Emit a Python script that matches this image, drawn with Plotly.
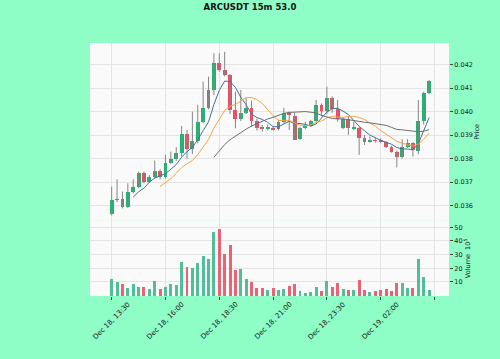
import plotly.graph_objects as go
import pandas as pd

# ---- data (15m candles, Dec 18 13:30 -> Dec 19 04:15) ----
opens = [0.03565, 0.03624, 0.03626, 0.03596, 0.03657, 0.03677, 0.03738, 0.03702, 0.03723, 0.03748,
         0.03723, 0.03783, 0.03797, 0.03823, 0.03904, 0.03840, 0.03877, 0.03957, 0.04017, 0.04092,
         0.04209, 0.04177, 0.04156, 0.04007, 0.03968, 0.03996, 0.04017, 0.03960, 0.03932, 0.03929,
         0.03932, 0.03925, 0.03957, 0.03996, 0.03982, 0.03884, 0.03929, 0.03939, 0.03960, 0.04029,
         0.04003, 0.04060, 0.04011, 0.03929, 0.03969, 0.03929, 0.03929, 0.03889, 0.03872, 0.03877,
         0.03877, 0.03870, 0.03851, 0.03830, 0.03806, 0.03851, 0.03866, 0.03833, 0.03960, 0.04078]
highs = [0.03681, 0.03712, 0.03660, 0.03695, 0.03712, 0.03745, 0.03745, 0.03730, 0.03791, 0.03755,
         0.03816, 0.03830, 0.03849, 0.03939, 0.03922, 0.04000, 0.04029, 0.04128, 0.04149, 0.04249,
         0.04249, 0.04255, 0.04160, 0.04085, 0.04092, 0.04057, 0.04047, 0.03970, 0.03943, 0.03945,
         0.03935, 0.03965, 0.04016, 0.04000, 0.03995, 0.03935, 0.03957, 0.03965, 0.04050, 0.04035,
         0.04106, 0.04065, 0.04050, 0.03972, 0.03980, 0.03957, 0.03935, 0.03901, 0.03894, 0.03890,
         0.03887, 0.03875, 0.03855, 0.03835, 0.03883, 0.03883, 0.03870, 0.04050, 0.04085, 0.04135]
lows = [0.03558, 0.03615, 0.03588, 0.03590, 0.03652, 0.03674, 0.03695, 0.03698, 0.03715, 0.03712,
        0.03715, 0.03778, 0.03790, 0.03809, 0.03800, 0.03820, 0.03865, 0.03950, 0.04010, 0.04070,
        0.04170, 0.04150, 0.03990, 0.03929, 0.03960, 0.03990, 0.03935, 0.03920, 0.03915, 0.03920,
        0.03920, 0.03920, 0.03950, 0.03922, 0.03880, 0.03880, 0.03925, 0.03935, 0.03955, 0.03980,
        0.03990, 0.03995, 0.03957, 0.03925, 0.03901, 0.03922, 0.03816, 0.03858, 0.03868, 0.03868,
        0.03865, 0.03845, 0.03825, 0.03763, 0.03800, 0.03845, 0.03809, 0.03819, 0.03945, 0.04075]
closes = [0.03624, 0.03626, 0.03596, 0.03657, 0.03677, 0.03738, 0.03702, 0.03723, 0.03748, 0.03723,
          0.03783, 0.03797, 0.03823, 0.03904, 0.03840, 0.03877, 0.03957, 0.04017, 0.04092, 0.04209,
          0.04177, 0.04156, 0.04007, 0.03968, 0.03996, 0.04017, 0.03960, 0.03932, 0.03929, 0.03934,
          0.03925, 0.03957, 0.03996, 0.03985, 0.03880, 0.03929, 0.03939, 0.03960, 0.04029, 0.04003,
          0.04060, 0.04011, 0.03969, 0.03969, 0.03929, 0.03933, 0.03889, 0.03872, 0.03877, 0.03876,
          0.03872, 0.03851, 0.03830, 0.03806, 0.03849, 0.03866, 0.03837, 0.03960, 0.04078, 0.04131]
volumes = [12.0, 10.2, 8.5, 5.8, 8.5, 6.6, 6.6, 4.7, 10.7, 4.9,
           6.6, 8.3, 7.8, 24.4, 21.2, 20.4, 23.6, 29.2, 26.6, 46.3,
           48.7, 30.9, 37.0, 18.8, 19.3, 12.2, 9.8, 5.4, 5.8, 4.2,
           5.4, 4.2, 4.7, 7.1, 8.3, 3.4, 2.2, 2.5, 6.1, 3.4,
           10.7, 6.6, 9.3, 4.9, 4.2, 4.2, 11.2, 4.2, 2.5, 3.4,
           3.9, 4.7, 3.4, 9.0, 9.0, 5.8, 5.8, 26.6, 13.4, 4.2]
tick_pos = [0, 10, 20, 30, 40, 50, 60]
tick_labels = ["Dec 18, 13:30", "Dec 18, 16:00", "Dec 18, 18:30", "Dec 18, 21:00",
               "Dec 18, 23:30", "Dec 19, 02:00"]
price_ticks = [0.036, 0.037, 0.038, 0.039, 0.040, 0.041, 0.042]
vol_ticks = [10, 20, 30, 40, 50]
mav_periods = [5, 10, 20]

# ---- styles ----
UP, DOWN = "#1fb36f", "#ef4b5e"
VUP, VDOWN = "#4fbf98", "#ec6272"
WICK = "#858585"
MAV_COLORS = ["#3f7594", "#f2a445", "#6e6e6e"]
BG = "#8efdc6"
PLOT_BG = "#fafafa"
GRID = "#e4e4e4"
FONT = "DejaVu Sans"
TICK_SIZE = 6.5

n = len(closes)
idx = list(range(n))
up = [c >= o for o, c in zip(opens, closes)]

fig = go.Figure()

# wicks
wx, wy = [], []
for i in idx:
    wx += [i, i, None]
    wy += [lows[i], highs[i], None]
fig.add_trace(go.Scatter(x=wx, y=wy, mode="lines", line=dict(color=WICK, width=1),
                         xaxis="x", yaxis="y", hoverinfo="skip", showlegend=False))

# bodies
for flag, col in [(True, UP), (False, DOWN)]:
    xs = [i for i in idx if up[i] == flag]
    base = [min(opens[i], closes[i]) for i in xs]
    hgt = [max(abs(closes[i] - opens[i]), 0.000025) for i in xs]
    fig.add_trace(go.Bar(x=xs, y=hgt, base=base, width=0.72, marker=dict(color=col, line=dict(width=0)),
                         xaxis="x", yaxis="y", showlegend=False))

# moving averages
cs = pd.Series(closes)
for p, col in zip(mav_periods, MAV_COLORS):
    ma = cs.rolling(p).mean()
    fig.add_trace(go.Scatter(x=idx, y=ma, mode="lines", line=dict(color=col, width=1),
                             xaxis="x", yaxis="y", showlegend=False))

# volume
fig.add_trace(go.Bar(x=idx, y=volumes, width=0.55,
                     marker=dict(color=[VUP if u else VDOWN for u in up], line=dict(width=0)),
                     xaxis="x2", yaxis="y2", showlegend=False))

# rotated date labels, centred under their ticks (matplotlib style)
for pos, lab in zip(tick_pos, tick_labels):
    fig.add_annotation(x=pos, y=0, xref="x2", yref="paper", text=lab, textangle=-45,
                       showarrow=False, xanchor="center", yanchor="top", yshift=-2,
                       font=dict(family=FONT, size=7, color="#222"))

xr = [-4.03, 62.7]
vol_dom = 0.297
fig.update_layout(
    width=500, height=359,
    margin=dict(l=90, r=51, t=43, b=63),
    paper_bgcolor=BG, plot_bgcolor=PLOT_BG,
    font=dict(family=FONT, size=TICK_SIZE, color="#222"),
    barmode="overlay", bargap=0,
    title=dict(text="<b>ARCUSDT 15m 53.0</b>", x=0.5, xanchor="center", y=0.99, yanchor="top",
               font=dict(family=FONT, size=8.5, color="#111")),
    xaxis=dict(domain=[0, 1], range=xr, anchor="y", showticklabels=False,
               tickvals=tick_pos, showgrid=True, gridcolor=GRID, zeroline=False, ticks=""),
    xaxis2=dict(domain=[0, 1], range=xr, anchor="y2", matches="x",
                tickvals=tick_pos, showticklabels=False,
                showgrid=True, gridcolor=GRID, zeroline=False, ticks="outside", ticklen=3,
                tickcolor="#444"),
    yaxis=dict(domain=[vol_dom, 1], range=[0.035349, 0.042923], side="right", anchor="x",
               tickvals=price_ticks, ticktext=[f"{v:.3f}" for v in price_ticks],
               tickfont=dict(size=TICK_SIZE),
               showgrid=True, gridcolor=GRID, zeroline=False, ticks="outside", ticklen=3,
               tickcolor="#444", title=dict(text="Price", standoff=2, font=dict(size=6.5))),
    yaxis2=dict(domain=[0, vol_dom], range=[-0.3, 54.7], side="right", anchor="x2",
                tickvals=vol_ticks, tickfont=dict(size=TICK_SIZE),
                showgrid=True, gridcolor=GRID, zeroline=False,
                ticks="outside", ticklen=3, tickcolor="#444",
                title=dict(text="Volume  10<sup>5</sup>", standoff=3, font=dict(size=6.5))),
)

fig.write_html("out.html")
